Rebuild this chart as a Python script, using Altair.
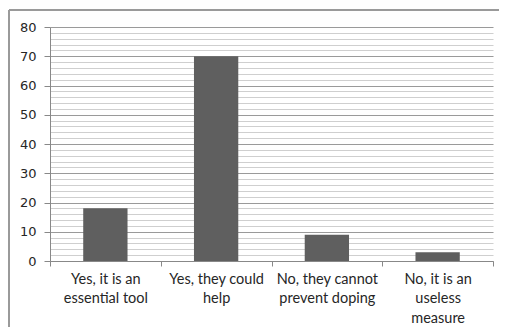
import altair as alt
import pandas as pd

categories = ["Yes, it is an|essential tool", "Yes, they could|help",
              "No, they cannot|prevent doping", "No, it is an|useless|measure"]
values = [18, 70, 9, 3]
y_ticks = list(range(0, 81, 2))

df = pd.DataFrame({"cat": categories, "val": values})

x = alt.X("cat:N", sort=categories, title=None,
          scale=alt.Scale(paddingInner=0, paddingOuter=0),
          axis=alt.Axis(labelAngle=0, labelExpr="split(datum.label, '|')",
                        labelFont="Lato", labelFontSize=14.5, labelColor="#262626",
                        labelLineHeight=19.5, labelPadding=6, labelBaseline="top",
                        tickBand="extent", tickSize=5, tickColor="#888",
                        domainColor="#888", grid=False))
y = alt.Y("val:Q", title=None,
          scale=alt.Scale(domain=[0, 80], nice=False),
          axis=alt.Axis(values=y_ticks,
                        labelExpr="datum.value % 10 === 0 ? datum.label : ''",
                        labelFont="DejaVu Sans", labelFontSize=13, labelColor="#262626",
                        labelPadding=8, tickSize=6,
                        tickColor={"condition": {"test": "datum.value % 10 === 0", "value": "#888"}, "value": "transparent"},
                        domainColor="#888",
                        grid=True,
                        gridColor={"condition": {"test": "datum.value % 10 === 0", "value": "#9a9a9a"}, "value": "#cfcfcf"},
                        gridWidth=1.2))

bars = alt.Chart(df).mark_bar(width={"band": 0.4}, color="#5f5f5f").encode(x=x, y=y)

one = pd.DataFrame({"a": [0]})
frame_top = alt.Chart(one).mark_rule(stroke="#9a9a9a", strokeWidth=2).encode(
    x=alt.value(-41), x2=alt.value(449), y=alt.value(-17))
frame_left = alt.Chart(one).mark_rule(stroke="#9a9a9a", strokeWidth=2).encode(
    x=alt.value(-41), y=alt.value(-17), y2=alt.value(300))

chart = alt.layer(bars, frame_top, frame_left).properties(
    width=443, height=234,
    autosize=alt.AutoSizeParams(type="none"),
    padding={"left": 42, "top": 19, "right": 7, "bottom": 67},
).configure_view(stroke=None)

chart.save("out.html", embed_options={"renderer": "svg", "actions": False})
